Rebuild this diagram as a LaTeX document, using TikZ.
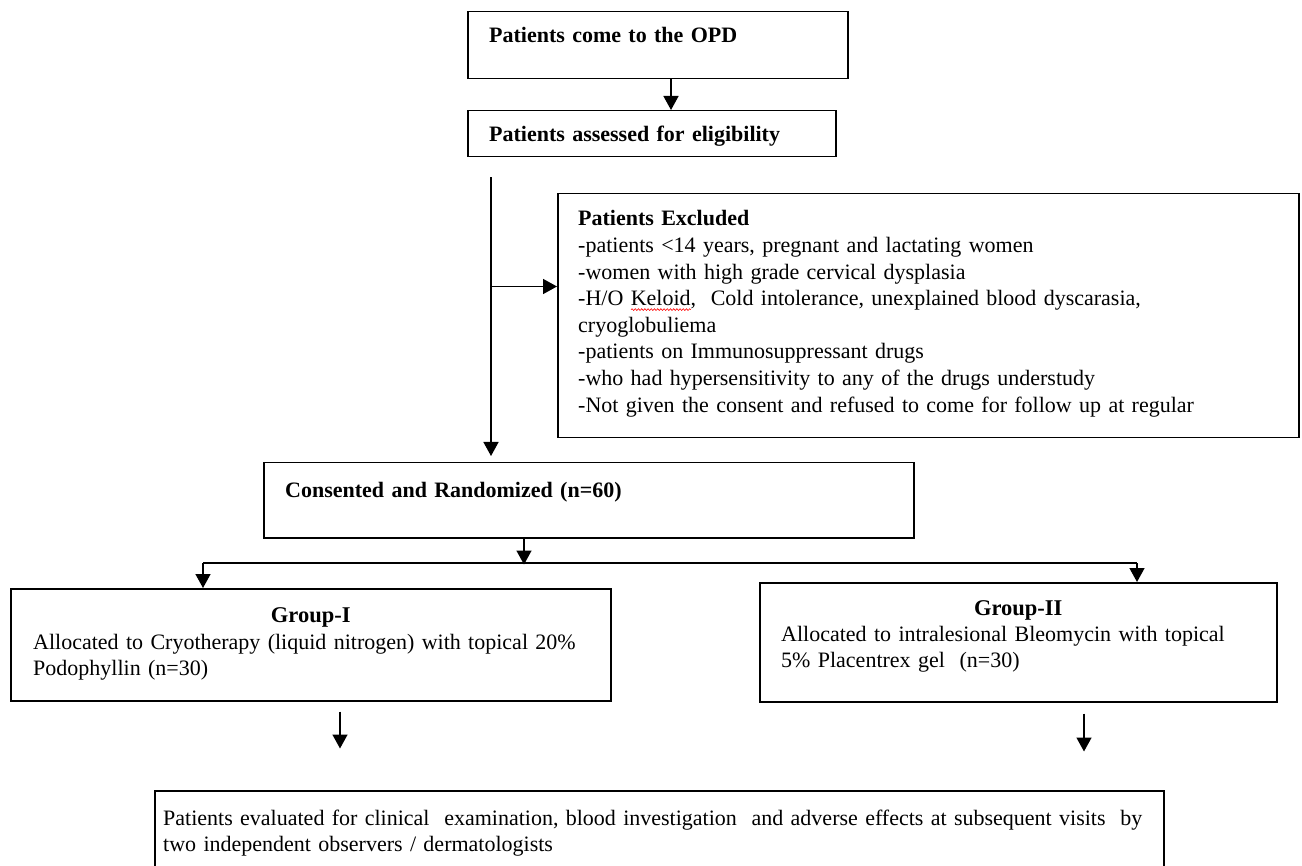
\documentclass[tikz,border=0pt]{standalone}
\usepackage{fontspec}
\setmainfont{Liberation Serif}
\usetikzlibrary{arrows.meta,calc,decorations.pathmorphing}
\newsavebox\wavebox
\newcommand\redwave[1]{\sbox\wavebox{#1}\rlap{\raisebox{-5pt}{\tikz\draw[red, line width=0.6pt, decorate, decoration={snake, amplitude=0.9pt, segment length=3.2pt}] (0pt,0pt) -- (\wd\wavebox,0pt);}}\usebox\wavebox}
\begin{document}
\begin{tikzpicture}[x=1pt,y=-1pt,
  box/.style={draw, line width=1.5pt, anchor=north west, inner sep=0pt},
  txt/.style={anchor=base west, inner sep=0pt, align=left, text width=1100pt, font=\fontsize{22}{26.6}\selectfont},
  btxt/.style={txt, font=\fontsize{22}{26.6}\selectfont\bfseries},
  htxt/.style={anchor=base, inner sep=0pt, font=\fontsize{22.5}{26.6}\selectfont\bfseries},
  ln/.style={line width=1.5pt},
  arr/.style={line width=1.5pt, -{Triangle[width=15pt,length=14pt]}}]
\useasboundingbox (0,0) rectangle (1302,866);
\clip (0,0) rectangle (1302,866);
% boxes
\node[box, minimum width=380pt, minimum height=67pt] (opd) at (467,11) {};
\node[box, minimum width=368pt, minimum height=46pt] (elig) at (467,110) {};
\node[box, minimum width=741pt, minimum height=244pt] (excl) at (557,193) {};
\node[box, minimum width=650pt, minimum height=75pt] (cons) at (263,462) {};
\node[box, minimum width=600pt, minimum height=112pt] (g1) at (10,588) {};
\node[box, minimum width=517pt, minimum height=119pt] (g2) at (759,582) {};
\node[box, minimum width=1009pt, minimum height=110pt] (eval) at (154,790) {};
% texts
\node[btxt] (opdt) at (489,43) {Patients come to the OPD};
\node[btxt] (eligt) at (489,142) {Patients assessed for eligibility};
\node[txt] (exclt) at (578,226) {\textbf{Patients Excluded}\\
-patients <14 years, pregnant and lactating women\\
-women with high grade cervical dysplasia\\
-H/O \redwave{Keloid},\ \ Cold intolerance, unexplained blood dyscarasia,\\
cryoglobuliema\\
-patients on Immunosuppressant drugs\\
-who had hypersensitivity to any of the drugs understudy\\
-Not given the consent and refused to come for follow up at regular};
\node[btxt] (const) at (285,497) {Consented and Randomized (n=60)};
\node[htxt] (g1h) at ($(g1.north)+(0,34)$) {Group-I};
\node[txt] (g1t) at (33,649) {Allocated to Cryotherapy (liquid nitrogen) with topical 20\%\\Podophyllin (n=30)};
\node[htxt] (g2h) at ($(g2.north)+(0,33)$) {Group-II};
\node[txt] (g2t) at (781,641) {Allocated to intralesional Bleomycin with topical\\5\% Placentrex gel\ \ (n=30)};
\node[txt] (evalt) at (163,825) {Patients evaluated for clinical\ \ examination, blood investigation\ \ and adverse effects at subsequent visits\ \ by\\two independent observers / dermatologists};
% connectors
\draw[arr] ($(opd.south west)+(204,0)$) -- ($(elig.north west)+(204,0)$);
\coordinate (vtop) at ($(elig.south west)+(24,20)$);
\coordinate (vbot) at ($(cons.north west)+(228,-6)$);
\draw[arr] (vtop) -- (vbot);
\coordinate (br) at ($(vtop)+(0,109)$);
\draw[arr] (br) -- (br -| excl.west);
\coordinate (split) at ($(cons.south west)+(261,26)$);
\draw[arr] (split |- cons.south) -- (split);
\coordinate (l) at ($(g1.north west)+(193,-25)$);
\coordinate (r0) at ($(g2.north west)+(378,0)$);
\coordinate (r) at (r0 |- l);
\draw[ln] (l) -- (r);
\draw[arr] (l) -- (l |- g1.north);
\draw[arr] (r) -- (r |- g2.north);
\coordinate (a1) at ($(g1.south west)+(330,10)$);
\draw[arr] (a1) -- ($(a1)+(0,37)$);
\coordinate (a2) at ($(g2.south west)+(325,11)$);
\draw[arr] (a2) -- ($(a2)+(0,38)$);
\end{tikzpicture}
\end{document}
